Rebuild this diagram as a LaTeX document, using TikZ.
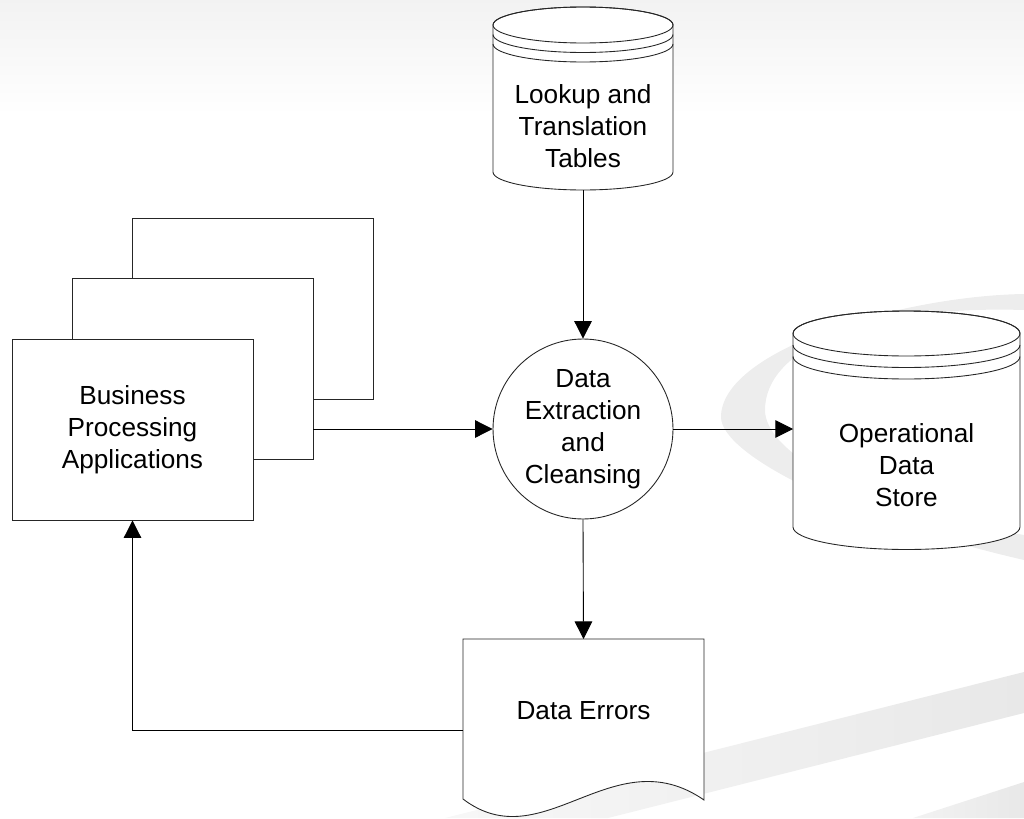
\documentclass[tikz,border=0pt]{standalone}
\usepackage{fontspec}
\setmainfont{Liberation Sans}
\usetikzlibrary{arrows.meta}

\tikzset{
  outline/.style={draw=black!85, line width=0.5pt},
  shapefill/.style={outline, fill=white},
  label text/.style={font=\fontsize{14.9}{18.3}\selectfont, align=center, text=black, inner sep=0pt},
  procbox/.style={shapefill, rectangle, minimum width=4.82cm, minimum height=3.62cm, inner sep=0pt},
  process/.style={shapefill, circle, minimum size=3.6cm, inner sep=0pt},
  flow/.style={draw=black, line width=0.5pt, -{Triangle[length=10pt, width=10pt]}},
  swoosh/.style={fill=black!7},
}

\begin{document}
\begin{tikzpicture}[x=0.02cm, y=-0.02cm]
  \useasboundingbox (0,0) rectangle (1024,818);
  \clip (0,0) rectangle (1024,818);

  % background: soft top band and grey swooshes
  \shade[top color=black!5, bottom color=white] (0,0) rectangle (1024,115);
  \fill[swoosh, even odd rule]
    (1024,294) .. controls (900,296) and (721,350) .. (721,417)
               .. controls (721,455) and (850,520) .. (1024,560) -- cycle
    (1024,310) .. controls (860,305) and (765,350) .. (765,410)
               .. controls (765,450) and (850,505) .. (1024,535) -- cycle;
  \shade[left color=black!3, right color=black!9]
    (445,818) -- (1024,672) -- (1024,713) -- (608,818) -- cycle;
  \shade[left color=black!5, right color=black!9]
    (913,818) -- (1024,782) -- (1024,818) -- cycle;

  % stacked business application boxes
  \node[procbox] (bpa3) at (252.5,308.5) {};
  \node[procbox] (bpa2) at (192.5,369) {};
  \node[procbox, label text] (bpa) at (132.5,429.5)
    {Business\\Processing\\Applications};

  % lookup and translation tables (stored data)
  \filldraw[shapefill] (493,25) -- (493,172)
    arc[start angle=180, end angle=360, x radius=1.8cm, y radius=0.36cm]
    -- (673,25)
    arc[start angle=0, end angle=180, x radius=1.8cm, y radius=0.36cm] -- cycle;
  \draw[outline] (583,25) ellipse[x radius=1.8cm, y radius=0.36cm];
  \draw[outline] (493,34.5) arc[start angle=180, end angle=360, x radius=1.8cm, y radius=0.36cm];
  \draw[outline] (493,44) arc[start angle=180, end angle=360, x radius=1.8cm, y radius=0.36cm];
  \node[label text] (lookup) at (583,126) {Lookup and\\Translation\\Tables};
  \coordinate (lookup-out) at (583,190);

  % operational data store
  \filldraw[shapefill] (793,333.5) -- (793,527)
    arc[start angle=180, end angle=360, x radius=2.27cm, y radius=0.45cm]
    -- (1020,333.5)
    arc[start angle=0, end angle=180, x radius=2.27cm, y radius=0.45cm] -- cycle;
  \draw[outline] (906.5,333.5) ellipse[x radius=2.27cm, y radius=0.45cm];
  \draw[outline] (793,345) arc[start angle=180, end angle=360, x radius=2.27cm, y radius=0.45cm];
  \draw[outline] (793,356.5) arc[start angle=180, end angle=360, x radius=2.27cm, y radius=0.45cm];
  \node[label text] (ods) at (906.5,465) {Operational\\Data\\Store};
  \coordinate (ods-in) at (793,429);

  % data errors document
  \filldraw[shapefill] (463,639) -- (704,639) -- (704,800)
    .. controls (613,737) and (543,860) .. (463,799) -- cycle;
  \node[label text] (err) at (583.5,711) {Data Errors};
  \coordinate (err-in) at (583.5,639);
  \coordinate (err-out) at (463,730);

  % extraction and cleansing process
  \node[process, label text] (dec) at (583,429)
    {Data\\Extraction\\and\\Cleansing};

  % data flows
  \draw[flow] (lookup-out) -- (dec.north);
  \draw[flow] (bpa2.east |- dec.west) -- (dec.west);
  \draw[flow] (dec.east) -- (ods-in);
  \draw[flow] (dec.south) -- (err-in);
  \draw[flow] (err-out) -| (bpa.south);
\end{tikzpicture}
\end{document}
